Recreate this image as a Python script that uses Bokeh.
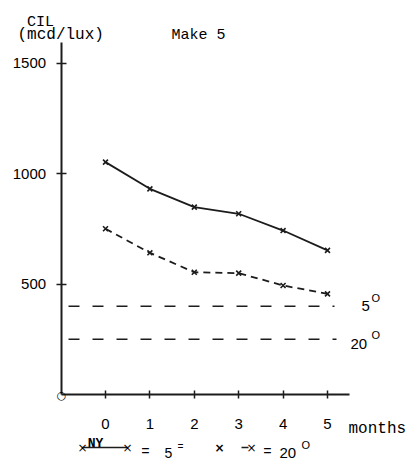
from bokeh.plotting import figure
from bokeh.models import Label, FixedTicker, Range1d
from bokeh.embed import file_html
from bokeh.resources import INLINE

# ---- data ----
months = [0, 1, 2, 3, 4, 5]
cil_5deg = [1053, 932, 849, 819, 743, 653]
cil_20deg = [751, 642, 554, 550, 494, 456]
ref_5deg = 400
ref_20deg = 250
y_ticks = [500, 1000, 1500]

# ---- geometry helpers (page pixel -> data) ----
X0_PX, X_STEP = 60.6, 44.4
Y0_PX, Y_SCALE = 394.0, 0.22067
W, H = 419, 459


def dx(px):
    return (px - X0_PX) / X_STEP - 1


def dy(py):
    return (Y0_PX - py) / Y_SCALE


p = figure(
    output_backend="svg", toolbar_location=None,
    width=W, height=H, min_border=0,
    x_range=Range1d(dx(0), dx(W)), y_range=Range1d(dy(H), dy(0)),
    title=None,
)
p.outline_line_color = None
p.grid.visible = False
p.background_fill_color = "white"
p.border_fill_color = "white"

INK = "#1c1c1c"
MONO = "Liberation Mono"
SANS = "Liberation Sans"

# axes drawn at the data origin
p.xaxis.fixed_location = 0
p.yaxis.fixed_location = -1
p.xaxis.bounds = (-1, 5.5)
p.yaxis.bounds = (0, 1595)
p.xaxis.ticker = FixedTicker(ticks=months)
p.yaxis.ticker = FixedTicker(ticks=y_ticks)
for ax in (p.xaxis[0], p.yaxis[0]):
    ax.axis_line_color = INK
    ax.axis_line_width = 2
    ax.major_tick_line_color = INK
    ax.major_tick_line_width = 1.5
    ax.minor_tick_line_color = None
    ax.major_label_text_font = SANS
    ax.major_label_text_color = "black"
    ax.major_label_text_font_size = "15px"
p.xaxis.major_tick_in = 4
p.xaxis.major_tick_out = 4
p.xaxis.major_label_standoff = 20
p.yaxis.major_tick_in = 5
p.yaxis.major_tick_out = 5
p.yaxis.major_label_standoff = 10

# reference lines
p.line([dx(68), dx(334)], [ref_5deg, ref_5deg], line_color=INK, line_width=1.5, line_dash="11 13")
p.line([dx(68), dx(336)], [ref_20deg, ref_20deg], line_color=INK, line_width=1.5, line_dash="11 13")

# series
p.line(months, cil_5deg, line_color=INK, line_width=1.8)
p.scatter(months, cil_5deg, marker="x", size=7, line_color=INK, line_width=1.6)
p.line(months, cil_20deg, line_color=INK, line_width=1.8, line_dash="7 5")
p.scatter(months, cil_20deg, marker="x", size=7, line_color=INK, line_width=1.6)


def lab(text, px, py, size, font=MONO, align="left", baseline="alphabetic", style="normal"):
    p.add_layout(Label(x=dx(px), y=dy(py), text=text, text_font=font,
                       text_font_size=size, text_align=align,
                       text_baseline=baseline, text_color="black",
                       text_font_style=style))


# header texts
lab("CIL", 40, 22, "15px", align="center")
lab("(mcd/lux)", 17, 34, "16px")
lab("Make 5", 171, 35, "15px")

# axis unit
lab("months", 348, 428, "16px")

# reference labels
lab("5", 361, 305, "15px", font=SANS)
lab("O", 371, 297, "11px", font=SANS)
lab("20", 350, 343, "15px", font=SANS)
lab("O", 371, 334, "11px", font=SANS)

# origin marker
lab("\u25cb", 61, 395, "11px", font="DejaVu Sans", align="center", baseline="middle")

# legend row
p.line([dx(82), dx(127)], [dy(447), dy(447)], line_color=INK, line_width=1.5)
lab("\u00d7", 82, 447, "12px", font="DejaVu Sans", align="center", baseline="middle")
lab("\u00d7", 127, 447, "12px", font="DejaVu Sans", align="center", baseline="middle")
lab("NY", 95, 443, "13px", align="center", style="bold")
lab("=", 145, 451, "14px", align="center")
lab("5", 168, 452, "14px", font=SANS, align="center")
lab("=", 180, 447, "10px", align="center")
lab("\u00d7", 219, 447, "12px", font="DejaVu Sans", align="center", baseline="middle", style="bold")
p.line([dx(241), dx(248)], [dy(447), dy(447)], line_color=INK, line_width=1.5)
lab("\u00d7", 251, 447, "12px", font="DejaVu Sans", align="center", baseline="middle")
lab("=", 267, 451, "14px", align="center")
lab("20", 279, 452, "15px", font=SANS)
lab("O", 301, 444, "11px", font=SANS)

open("out.html", "w").write(file_html(p, INLINE))
